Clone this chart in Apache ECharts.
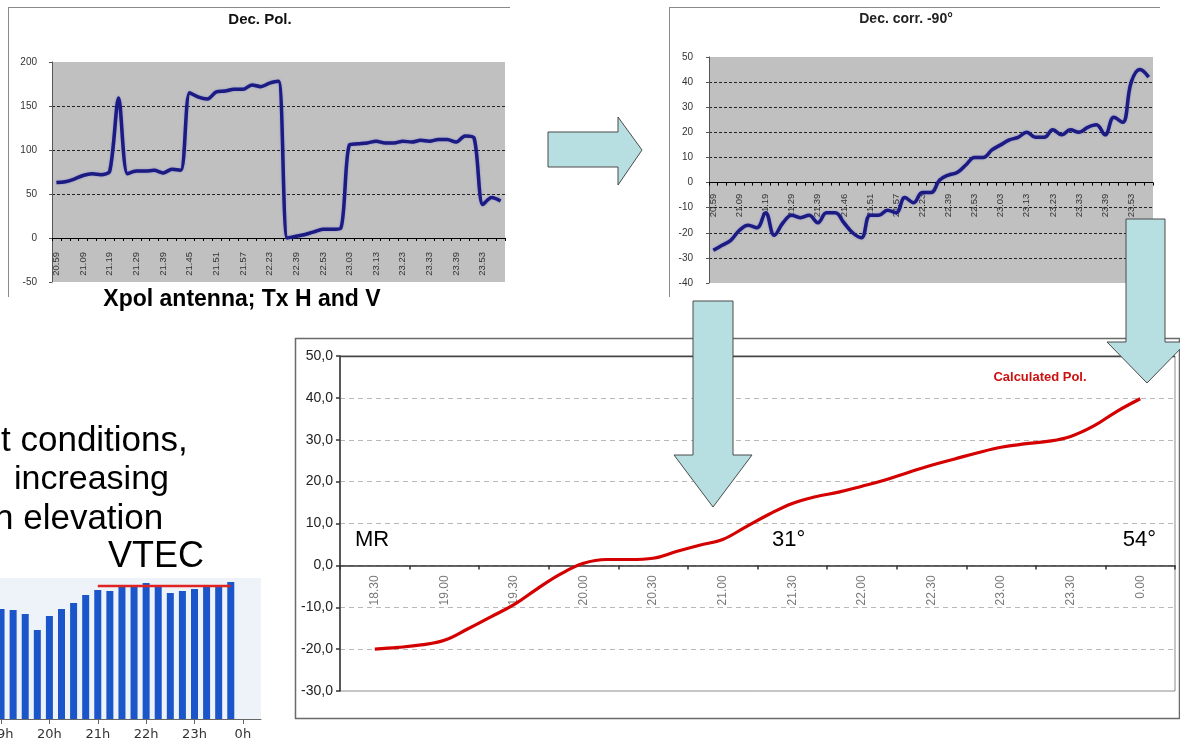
<!DOCTYPE html>
<html>
<head>
<meta charset="utf-8">
<script src="https://cdn.jsdelivr.net/npm/echarts@6/dist/echarts.min.js"></script>
<style>
html,body{margin:0;padding:0;background:#fff;}
#c{width:1180px;height:749px;}
</style>
</head>
<body>
<div id="c"></div>
<script>
// ---- Data: Dec. Pol. (top-left) ----
const decPolTimes = ['20.59','21.02','21.06','21.09','21.12','21.16','21.19','21.22','21.26','21.29','21.32','21.36','21.39','21.41','21.43','21.45','21.47','21.49','21.51','21.53','21.55','21.57','22.05','22.14','22.23','22.28','22.34','22.39','22.44','22.48','22.53','22.56','22.59','23.03','23.06','23.09','23.13','23.16','23.19','23.23','23.26','23.29','23.33','23.35','23.37','23.39','23.44','23.48','23.53','23.56','23.59'];
const decPolValues = [63,64,67,71,73,72,76,159,73,76,76,77,74,78,77,165,160,158,166,167,169,169,174,172,176,178,0,2,4,7,10,10,11,106,107,108,110,108,108,110,109,111,110,112,112,109,116,114,38,46,42];

// ---- Data: Dec. corr. -90° (top-right) ----
const decCorrTimes = ['20.59','21.02','21.06','21.09','21.12','21.16','21.19','21.22','21.26','21.29','21.32','21.36','21.39','21.41','21.43','21.46','21.47','21.49','21.51','21.53','21.55','21.57','22.05','22.14','22.23','22.28','22.34','22.39','22.44','22.48','22.53','22.56','22.59','23.03','23.06','23.09','23.13','23.16','23.19','23.23','23.26','23.29','23.33','23.35','23.37','23.39','23.44','23.48','23.53','23.56','23.59'];
const decCorrValues = [-27,-25,-23,-19,-17,-18,-12,-21,-16,-13,-14,-13,-16,-12,-12,-16,-20,-22,-13,-13,-11,-12,-6,-8,-4,-4,1,3,4,7,10,10,13,15,17,18,20,18,18,21,19,21,20,22,23,19,26,24,40,45,42];

// ---- Data: Calculated Pol. (bottom) ----
const calcCategories = ['18.30','19.00','19.30','20.00','20.30','21.00','21.30','22.00','22.30','23.00','23.30','0.00'];
const calcMinutes = [0,10,20,30,40,50,60,70,80,90,100,110,120,130,140,150,160,170,180,190,200,210,220,230,240,250,260,270,280,290,300,310,320,330];
const calcValues = [-20.0,-19.6,-19.0,-17.9,-15.2,-12.3,-9.4,-5.6,-2.1,0.5,1.4,1.4,1.7,3.3,4.8,6.2,9.2,12.2,14.8,16.4,17.5,18.9,20.4,22.2,23.9,25.4,26.9,28.2,29.0,29.6,30.8,33.3,36.8,39.8];

// ---- Data: VTEC bars ----
const vtecTimes = ['19:00','19:15','19:30','19:45','20:00','20:15','20:30','20:45','21:00','21:15','21:30','21:45','22:00','22:15','22:30','22:45','23:00','23:15','23:30','23:45','00:00','00:15'];
const vtecValues = [11.0,10.9,10.5,8.9,10.3,11.0,11.6,12.4,12.9,12.8,13.2,13.3,13.6,13.3,12.6,12.8,13.0,13.3,13.4,13.7,null,null];
const vtecRef = [null,null,null,null,null,null,null,null,13.3,13.3,13.3,13.3,13.3,13.3,13.3,13.3,13.3,13.3,13.3,13.3,null,null];

const FONT = "'Liberation Sans', Arial, sans-serif";
const chart = echarts.init(document.getElementById('c'), null, {renderer:'canvas'});

const excelGrid = {type:[3,2], color:'#222', width:1};
const arrowStyle = {fill:'#b7dfe2', stroke:'#4a4a4a', lineWidth:1};

const option = {
  animation:false,
  backgroundColor:'#fff',
  grid:[
    {left:52, top:62, width:453, height:220, show:true, backgroundColor:'#c0c0c0', borderWidth:0, outerBoundsMode:'none', containLabel:false},
    {left:709, top:57, width:444, height:226, show:true, backgroundColor:'#c0c0c0', borderWidth:0, outerBoundsMode:'none', containLabel:false},
    {left:340, top:356, width:835, height:335, show:true, backgroundColor:'#fff', borderColor:'#8c8c8c', borderWidth:1, outerBoundsMode:'none', containLabel:false},
    {left:-5, top:578, width:266, height:141, show:true, backgroundColor:'#eef3fa', borderWidth:0, outerBoundsMode:'none', containLabel:false}
  ],
  xAxis:[
    {type:'category', gridIndex:0, data:decPolTimes, boundaryGap:true, offset:-44,
     axisLine:{onZero:false, lineStyle:{color:'#000', width:1}},
     axisTick:{show:true, interval:0, length:3, lineStyle:{color:'#000'}},
     axisLabel:{interval:2, rotate:90, margin:14, fontSize:9.5, color:'#333', fontFamily:FONT, hideOverlap:false},
     splitLine:{show:false}},
    {type:'category', gridIndex:1, data:decCorrTimes, boundaryGap:true, offset:-100.4,
     axisLine:{onZero:false, lineStyle:{color:'#000', width:1}},
     axisTick:{show:true, interval:0, length:3, lineStyle:{color:'#000'}},
     axisLabel:{interval:2, rotate:90, margin:11, fontSize:9.5, color:'#333', fontFamily:FONT, hideOverlap:false},
     splitLine:{show:false}},
    {type:'category', gridIndex:2, data:calcCategories, boundaryGap:true, offset:-125.6,
     axisLine:{onZero:false, lineStyle:{color:'#333', width:1.5}},
     axisTick:{show:true, length:4, lineStyle:{color:'#333', width:1.5}},
     axisLabel:{interval:0, rotate:90, margin:10, fontSize:12, color:'#7a7a7a', fontFamily:FONT, hideOverlap:false},
     splitLine:{show:false}},
    {type:'value', gridIndex:2, min:-15, max:345, show:false},
    {type:'category', gridIndex:3, data:vtecTimes, boundaryGap:true,
     axisLine:{onZero:false, lineStyle:{color:'#666', width:1}},
     axisTick:{show:true, alignWithLabel:true, interval:3, length:5, lineStyle:{color:'#666'}},
     axisLabel:{interval:3, margin:9, fontSize:13, color:'#333', fontFamily:"'DejaVu Sans', sans-serif",
       formatter:(v)=>parseInt(v,10)+'h', hideOverlap:false},
     splitLine:{show:false}}
  ],
  yAxis:[
    {type:'value', gridIndex:0, min:-50, max:200, interval:50,
     axisLine:{show:true, onZero:false, lineStyle:{color:'#555'}},
     axisTick:{show:true, length:3, lineStyle:{color:'#555'}},
     axisLabel:{fontSize:10, color:'#333', margin:15, fontFamily:FONT},
     splitLine:{show:true, showMinLine:false, showMaxLine:false, lineStyle:excelGrid}},
    {type:'value', gridIndex:1, min:-40, max:50, interval:10,
     axisLine:{show:true, onZero:false, lineStyle:{color:'#555'}},
     axisTick:{show:true, length:3, lineStyle:{color:'#555'}},
     axisLabel:{fontSize:10, color:'#333', margin:16, fontFamily:FONT},
     splitLine:{show:true, showMinLine:false, showMaxLine:false, lineStyle:excelGrid}},
    {type:'value', gridIndex:2, min:-30, max:50, interval:10,
     axisLine:{show:true, onZero:false, lineStyle:{color:'#333', width:1.5}},
     axisTick:{show:true, length:4, lineStyle:{color:'#333', width:1.5}},
     axisLabel:{fontSize:14, color:'#222', margin:7, fontFamily:FONT,
       formatter:(v)=>v.toFixed(1).replace('.', ',')},
     splitLine:{show:true, showMinLine:false, showMaxLine:false, lineStyle:{type:[5,4], color:'#b8b8b8', width:1}}},
    {type:'value', gridIndex:3, min:0, max:14.1, show:false}
  ],
  series:[
    {type:'line', xAxisIndex:0, yAxisIndex:0, data:decPolValues, smooth:0.3, symbol:'none', z:3,
     lineStyle:{color:'#1b1b82', width:3.5, shadowColor:'rgba(80,80,220,0.5)', shadowBlur:2}},
    {type:'line', xAxisIndex:1, yAxisIndex:1, data:decCorrValues, smooth:0.4, symbol:'none', z:3,
     lineStyle:{color:'#1b1b82', width:3.5, shadowColor:'rgba(80,80,220,0.5)', shadowBlur:2}},
    {type:'line', xAxisIndex:3, yAxisIndex:2, data:calcMinutes.map((m,i)=>[m, calcValues[i]]), smooth:0.4, symbol:'none',
     lineStyle:{color:'#d40000', width:3.2}},
    {type:'bar', xAxisIndex:4, yAxisIndex:3, data:vtecValues, barWidth:7,
     itemStyle:{color:'#1a55c9'}},
    {type:'line', xAxisIndex:4, yAxisIndex:3, data:vtecRef, symbol:'none',
     lineStyle:{color:'#e02424', width:2.5}}
  ],
  graphic:[
    // top-left frame
    {type:'line', shape:{x1:8, y1:7.5, x2:510, y2:7.5}, style:{stroke:'#8a8a8a', lineWidth:1}, z:1},
    {type:'line', shape:{x1:8.5, y1:7, x2:8.5, y2:297}, style:{stroke:'#8a8a8a', lineWidth:1}, z:1},
    {type:'text', style:{text:'Dec. Pol.', x:260, y:20, align:'center', verticalAlign:'middle', font:"bold 15px "+FONT, fill:'#111'}, z:5},
    {type:'text', style:{text:'Xpol antenna; Tx H and V', x:242, y:300, align:'center', verticalAlign:'middle', font:"bold 23px "+FONT, fill:'#000'}, z:5},
    // top-right frame
    {type:'line', shape:{x1:669, y1:7.5, x2:1160, y2:7.5}, style:{stroke:'#8a8a8a', lineWidth:1}, z:1},
    {type:'line', shape:{x1:669.5, y1:7, x2:669.5, y2:297}, style:{stroke:'#8a8a8a', lineWidth:1}, z:1},
    {type:'text', style:{text:'Dec. corr. -90°', x:906, y:19, align:'center', verticalAlign:'middle', font:"bold 14px "+FONT, fill:'#222'}, z:5},
    // bottom frame
    {type:'rect', shape:{x:295.5, y:338.5, width:884, height:380}, style:{fill:'none', stroke:'#6a6a6a', lineWidth:1.5}, z:1},
    {type:'line', shape:{x1:340, y1:356.5, x2:1175, y2:356.5}, style:{stroke:'#444', lineWidth:1.5}, z:3},
    {type:'text', style:{text:'Calculated Pol.', x:1040, y:377, align:'center', verticalAlign:'middle', font:"bold 13px "+FONT, fill:'#cc1111'}, z:5},
    {type:'text', style:{text:'MR', x:355, y:540, align:'left', verticalAlign:'middle', font:"22px "+FONT, fill:'#000'}, z:5},
    {type:'text', style:{text:'31°', x:772, y:540, align:'left', verticalAlign:'middle', font:"22px "+FONT, fill:'#000'}, z:5},
    {type:'text', style:{text:'54°', x:1156, y:540, align:'right', verticalAlign:'middle', font:"22px "+FONT, fill:'#000'}, z:5},
    // left text
    {type:'text', style:{text:'t conditions,', x:1, y:441, align:'left', verticalAlign:'middle', font:"35px "+FONT, fill:'#000'}, z:5},
    {type:'text', style:{text:'increasing', x:14, y:480, align:'left', verticalAlign:'middle', font:"34px "+FONT, fill:'#000'}, z:5},
    {type:'text', style:{text:'n elevation', x:-6, y:519, align:'left', verticalAlign:'middle', font:"35px "+FONT, fill:'#000'}, z:5},
    {type:'text', style:{text:'VTEC', x:108, y:557, align:'left', verticalAlign:'middle', font:"36px "+FONT, fill:'#000'}, z:5},
    // arrows
    {type:'polygon', shape:{points:[[548,132],[618,132],[618,117],[642,150],[618,185],[618,167],[548,167]]}, style:arrowStyle, z:20},
    {type:'polygon', shape:{points:[[693,301],[733,301],[733,455],[752,455],[713,507],[674,455],[693,455]]}, style:arrowStyle, z:20},
    {type:'polygon', shape:{points:[[1126,219],[1165,219],[1165,342],[1187,342],[1147,383],[1107,342],[1126,342]]}, style:arrowStyle, z:20}
  ]
};
chart.setOption(option);
</script>
</body>
</html>
